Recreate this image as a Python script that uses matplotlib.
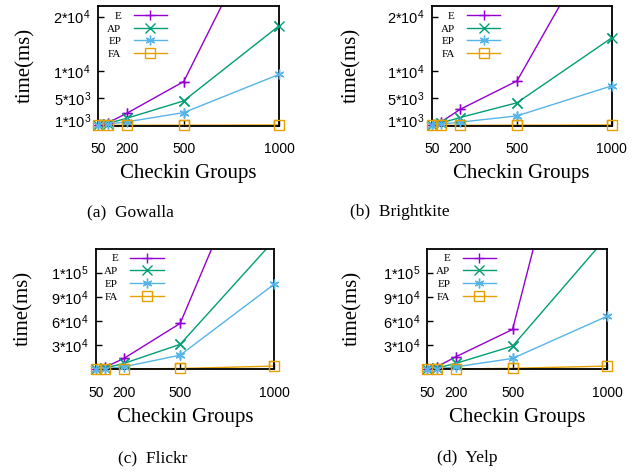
import matplotlib
matplotlib.use("Agg")
import matplotlib.pyplot as plt

plt.rcParams["mathtext.fontset"] = "custom"
plt.rcParams["mathtext.rm"] = "Liberation Sans"
plt.rcParams["mathtext.default"] = "regular"

# checkin group sizes
groups = [50, 100, 200, 500, 1000]
xtick_vals = [50, 200, 500, 1000]

# running time (ms) per dataset
gowalla = {
    "E": [150, 500, 2250, 8100, 43000],
    "AP": [120, 400, 1350, 4550, 18300],
    "EP": [100, 300, 700, 2400, 9400],
    "FA": [40, 60, 80, 100, 130],
}
brightkite = {
    "E": [200, 700, 3000, 8200, 38800],
    "AP": [150, 500, 1500, 4200, 16100],
    "EP": [100, 300, 650, 1800, 7300],
    "FA": [40, 60, 80, 100, 130],
}
flickr = {
    "E": [600, 2500, 13500, 57000, 333000],
    "AP": [400, 1500, 7300, 31000, 160000],
    "EP": [300, 800, 3100, 17600, 105500],
    "FA": [100, 200, 400, 1000, 4000],
}
yelp = {
    "E": [700, 3000, 15500, 49500, 507000],
    "AP": [400, 1500, 7300, 28800, 165000],
    "EP": [300, 800, 3000, 13500, 66000],
    "FA": [100, 200, 400, 1200, 4000],
}

small_ticks = [1000, 5000, 10000, 20000]
small_labels = ["1*10$^3$", "5*10$^3$", "1*10$^4$", "2*10$^4$"]
big_ticks = [30000, 60000, 90000, 120000]
big_labels = ["3*10$^4$", "6*10$^4$", "9*10$^4$", "1*10$^5$"]

captions = ["(a)  Gowalla", "(b)  Brightkite", "(c)  Flickr", "(d)  Yelp"]

styles = {
    "E": dict(color="#9400D3", marker="+"),
    "AP": dict(color="#009E73", marker="x"),
    "EP": dict(color="#56B4E9", marker=(6, 2, 0)),
    "FA": dict(color="#E69F00", marker="s"),
}

fig = plt.figure(figsize=(6.44, 4.72), dpi=100)
W, H = 644, 472
# pixel boxes: left, top, right, bottom
boxes = [(98, 5.7, 279, 125.7), (431.7, 5.7, 611.7, 125.7),
         (95.7, 248.5, 274, 369.3), (427.3, 248.5, 607.3, 369.3)]
datasets = [gowalla, brightkite, flickr, yelp]
ylims = [22000, 22000, 150000, 150000]
ticks = [(small_ticks, small_labels), (small_ticks, small_labels),
         (big_ticks, big_labels), (big_ticks, big_labels)]
ylab_x = [-0.348, -0.39, -0.352, -0.363]
cap_pos = [(130, 212), (400, 212), (153, 458), (467, 458)]

for i, (ds, box) in enumerate(zip(datasets, boxes)):
    l, t, r, b = box
    ax = fig.add_axes([l / W, (H - b) / H, (r - l) / W, (b - t) / H])
    ymax = ylims[i]
    for name in ["E", "AP", "EP", "FA"]:
        st = styles[name]
        ys = ds[name]
        ax.plot(groups, ys, color=st["color"], lw=1.0, label=name,
                marker=st["marker"], mfc="none", ms=7, mew=1.0,
                markevery=[k for k, v in enumerate(ys) if v <= ymax])
        # markers sitting on the border are drawn whole, like gnuplot
        px = [g for g, v in zip(groups, ys) if v <= ymax]
        py = [v for v in ys if v <= ymax]
        ax.plot(px, py, ls="none", color=st["color"], marker=st["marker"],
                mfc="none", ms=7, mew=1.0, clip_on=False, zorder=5)
    ax.set_xlim(50, 1000)
    ax.set_ylim(0, ymax)
    ax.set_xticks(xtick_vals)
    ax.set_xticklabels([str(v) for v in xtick_vals], family="Liberation Sans", fontsize=10)
    ax.set_yticks(ticks[i][0])
    ax.set_yticklabels(ticks[i][1], family="Liberation Sans", fontsize=10.5)
    ax.tick_params(axis="x", direction="in", length=4, width=1, pad=12)
    ax.tick_params(axis="y", direction="in", length=4, width=1, pad=5)
    for sp in ax.spines.values():
        sp.set_linewidth(1.3)
        sp.set_zorder(3)
    ax.set_xlabel("Checkin Groups", family="Liberation Serif", fontsize=15)
    ax.xaxis.set_label_coords(0.5, -0.32)
    ax.set_ylabel("time(ms)", family="Liberation Serif", fontsize=15)
    ax.yaxis.set_label_coords(ylab_x[i], 0.5)
    ax.legend(loc="upper right", bbox_to_anchor=(0.40, 0.985), frameon=False,
              markerfirst=False, prop={"family": "Liberation Serif", "size": 8},
              handlelength=3.0, handletextpad=1.1, labelspacing=0.28,
              borderaxespad=0.0, borderpad=0.3)
    fig.text(cap_pos[i][0] / W, 1 - cap_pos[i][1] / H, captions[i],
             family="Liberation Serif", fontsize=12.5, ha="center", va="center")

fig.savefig("out.png", dpi=100)
